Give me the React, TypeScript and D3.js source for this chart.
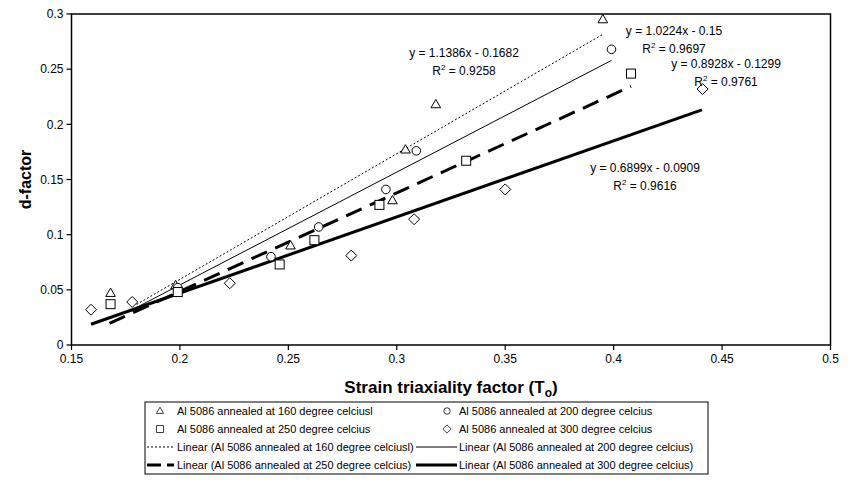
import React from 'react';
import * as d3 from 'd3';

const xTicks = [0.15, 0.2, 0.25, 0.3, 0.35, 0.4, 0.45, 0.5];
const yTicks = [0, 0.05, 0.1, 0.15, 0.2, 0.25, 0.3];

const seriesNames = [
  'Al 5086 annealed at 160 degree celciusl',
  'Al 5086 annealed at 200 degree celcius',
  'Al 5086 annealed at 250 degree celcius',
  'Al 5086 annealed at 300 degree celcius',
];

const t160x = [0.168, 0.198, 0.251, 0.298, 0.304, 0.318, 0.395];
const t160y = [0.047, 0.054, 0.09, 0.131, 0.177, 0.218, 0.295];
const c200x = [0.199, 0.242, 0.264, 0.295, 0.309, 0.399];
const c200y = [0.052, 0.08, 0.107, 0.141, 0.176, 0.268];
const s250x = [0.168, 0.199, 0.246, 0.262, 0.292, 0.332, 0.408];
const s250y = [0.037, 0.048, 0.073, 0.095, 0.127, 0.167, 0.246];
const d300x = [0.159, 0.178, 0.223, 0.279, 0.308, 0.35, 0.441];
const d300y = [0.032, 0.039, 0.056, 0.081, 0.114, 0.141, 0.232];

const slopes = [1.1386, 1.0224, 0.8928, 0.6899];
const intercepts = [-0.1682, -0.15, -0.1299, -0.0909];
const fitStart = [0.18, 0.178, 0.1675, 0.159];
const fitEnd = [0.395, 0.399, 0.408, 0.4407];
const eqTexts = ['y = 1.1386x - 0.1682', 'y = 1.0224x - 0.15', 'y = 0.8928x - 0.1299', 'y = 0.6899x - 0.0909'];
const r2Texts = ['0.9258', '0.9697', '0.9761', '0.9616'];

// layout
const W = 849, H = 496;
const L = 71.5, R = 830.5, T = 14, B = 345;
const eqPos = [[464, 57], [674, 35], [726, 68], [645, 172]];
const lineStyles = [
  { w: 1, dash: '2,2' },
  { w: 1, dash: '' },
  { w: 3, dash: '17,9' },
  { w: 3, dash: '' },
];
const FONT = '"Liberation Sans", Arial, sans-serif';

function Marker({ kind, x, y }: { kind: number; x: number; y: number }) {
  const st = { fill: 'white', stroke: 'black', strokeWidth: 1 };
  if (kind === 0) {
    const sym = d3.symbol().type(d3.symbolTriangle).size(40)();
    return <path d={sym || ''} transform={`translate(${x},${y + 0.5})`} {...st} />;
  }
  if (kind === 1) return <circle cx={x} cy={y} r={4.3} {...st} />;
  if (kind === 2) return <rect x={x - 4.5} y={y - 4.5} width={9} height={9} {...st} />;
  const d = `M${x},${y - 5.5}L${x + 5.5},${y}L${x},${y + 5.5}L${x - 5.5},${y}Z`;
  return <path d={d} {...st} />;
}

export default function App() {
  const x = d3.scaleLinear().domain([0.15, 0.5]).range([L, R]);
  const y = d3.scaleLinear().domain([0, 0.3]).range([B, T]);
  const xs = [t160x, c200x, s250x, d300x];
  const ys = [t160y, c200y, s250y, d300y];
  const fmt = (v: number) => String(+v.toFixed(2));

  // legend layout
  const legL = 145, legR = 708, legT = 402, legB = 474;
  const rowY = [411, 429, 447, 465];
  const col1Sym = 160, col1Txt = 177, col2Sym = 447, col2Txt = 459;

  return (
    <svg width={W} height={H} style={{ position: 'absolute', left: 0, top: 0, background: 'white' }} fontFamily={FONT}>
      <rect x={0} y={0} width={W} height={H} fill="white" />
      {/* trendlines */}
      {slopes.map((m, i) => {
        const pts: [number, number][] = [fitStart[i], fitEnd[i]].map((v) => [x(v), y(m * v + intercepts[i])]);
        const d = d3.line()(pts) || '';
        return (
          <path key={'f' + i} d={d} fill="none" stroke="black" strokeWidth={lineStyles[i].w}
            strokeDasharray={lineStyles[i].dash || undefined} />
        );
      })}
      {/* markers */}
      {xs.map((arr, k) =>
        arr.map((v, j) => <Marker key={`m${k}-${j}`} kind={k} x={x(v)} y={y(ys[k][j])} />)
      )}
      {/* frame */}
      <rect x={L} y={T} width={R - L} height={B - T} fill="none" stroke="black" strokeWidth={1.5} />
      {/* y ticks */}
      {yTicks.map((t) => (
        <g key={'y' + t}>
          <line x1={L - 5} x2={L} y1={y(t)} y2={y(t)} stroke="black" strokeWidth={1.2} />
          <text x={L - 8} y={y(t)} dy="0.35em" textAnchor="end" fontSize={12}>{fmt(t)}</text>
        </g>
      ))}
      {xTicks.map((t) => (
        <g key={'x' + t}>
          <line x1={x(t)} x2={x(t)} y1={B} y2={B + 5} stroke="black" strokeWidth={1.2} />
          <text x={x(t)} y={B + 18} textAnchor="middle" fontSize={12}>{fmt(t)}</text>
        </g>
      ))}
      {/* axis titles */}
      <text transform={`translate(31,${(T + B) / 2}) rotate(-90)`} textAnchor="middle" fontSize={16} fontWeight="bold">d-factor</text>
      <text x={(L + R) / 2} y={393} textAnchor="middle" fontSize={17} fontWeight="bold">
        Strain triaxiality factor (T<tspan fontSize={12} dy={4}>o</tspan><tspan dy={-4}>)</tspan>
      </text>
      {/* equations */}
      {eqTexts.map((t, i) => (
        <g key={'e' + i}>
          <text x={eqPos[i][0]} y={eqPos[i][1]} textAnchor="middle" fontSize={12}>{t}</text>
          <text x={eqPos[i][0]} y={eqPos[i][1] + 18} textAnchor="middle" fontSize={12}>
            R<tspan fontSize={8} dy={-5}>2</tspan><tspan dy={5}> = {r2Texts[i]}</tspan>
          </text>
        </g>
      ))}
      {/* legend */}
      <rect x={legL} y={legT} width={legR - legL} height={legB - legT} fill="white" stroke="black" strokeWidth={1} />
      {[0, 1, 2, 3].map((i) => {
        const col = i % 2;
        const row = Math.floor(i / 2);
        const sx = col === 0 ? col1Sym : col2Sym;
        const tx = col === 0 ? col1Txt : col2Txt;
        return (
          <g key={'ls' + i}>
            <g transform={`translate(${sx},${rowY[row]}) scale(0.75) translate(${-sx},${-rowY[row]})`}>
              <Marker kind={i} x={sx} y={rowY[row]} />
            </g>
            <text x={tx} y={rowY[row]} dy="0.35em" fontSize={11}>{seriesNames[i]}</text>
          </g>
        );
      })}
      {[0, 1, 2, 3].map((i) => {
        const col = i % 2;
        const row = 2 + Math.floor(i / 2);
        const x0 = col === 0 ? 147 : 416;
        const x1 = col === 0 ? 174 : 457;
        const tx = col === 0 ? col1Txt : col2Txt;
        return (
          <g key={'ll' + i}>
            <line x1={x0} x2={x1} y1={rowY[row]} y2={rowY[row]} stroke="black" strokeWidth={lineStyles[i].w}
              strokeDasharray={i === 2 ? '14,6' : lineStyles[i].dash || undefined} />
            <text x={tx} y={rowY[row]} dy="0.35em" fontSize={11}>{'Linear (' + seriesNames[i] + ')'}</text>
          </g>
        );
      })}
    </svg>
  );
}
